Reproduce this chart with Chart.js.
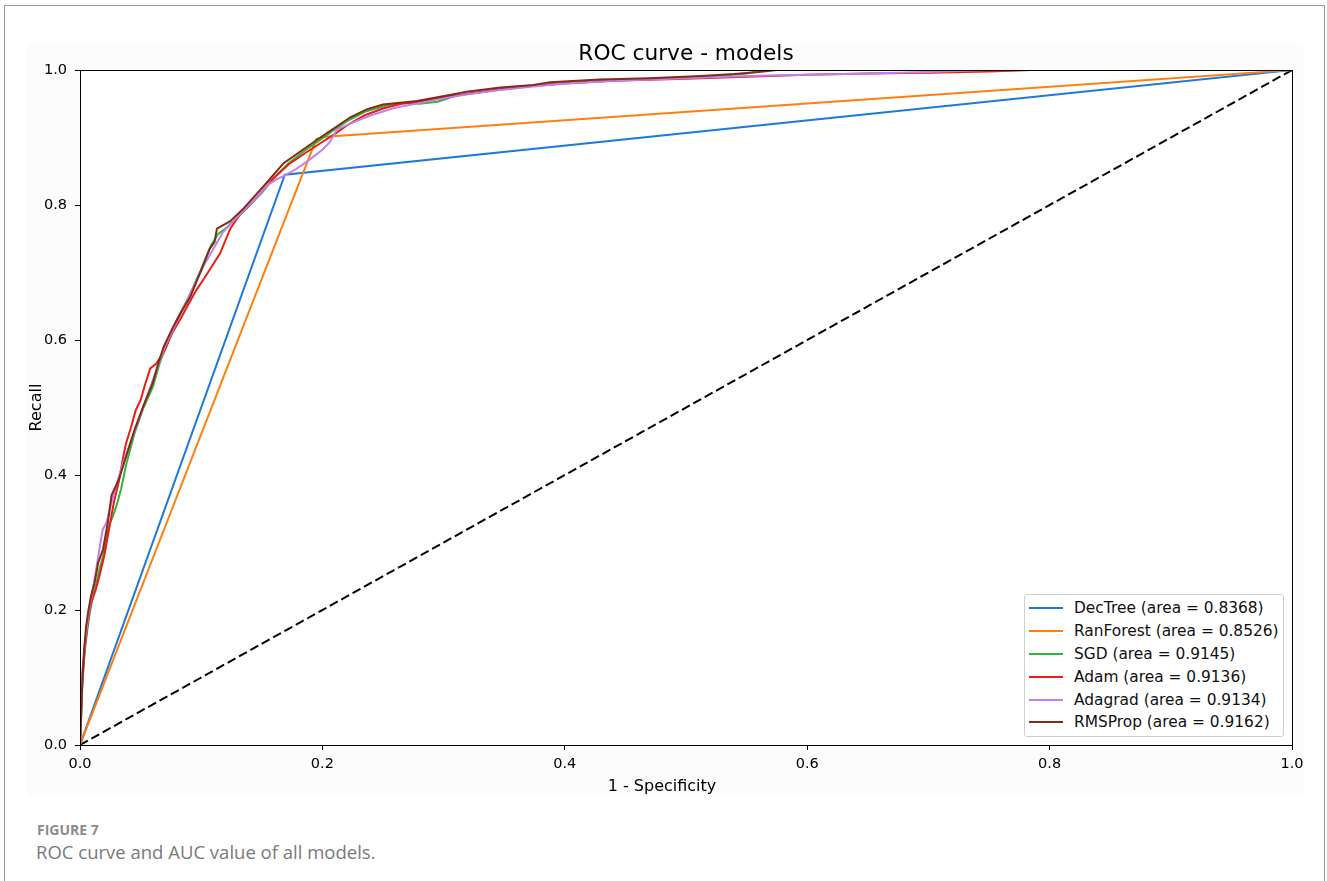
<!DOCTYPE html>
<html>
<head>
<meta charset="utf-8">
<script src="https://cdn.jsdelivr.net/npm/chart.js@4.4.1/dist/chart.umd.min.js"></script>
<style>
  body { margin: 0; background: #fff; }
  #frame { position: absolute; left: 4px; top: 5px; width: 1319px; height: 900px;
           border: 1.5px solid #9a9a9a; border-bottom: none; }
  #figbg { position: absolute; left: 26px; top: 42px; width: 1277px; height: 755px; background: #fcfcfc; }
  #wrap { position: absolute; left: 0; top: 0; width: 1327px; height: 810px; }
  #xlabel { position: absolute; left: 562px; width: 200px; top: 776px; text-align: center;
            font-family: 'DejaVu Sans', sans-serif; font-size: 16px; color: #000; }
  #legend { position: absolute; left: 1024px; top: 594px; width: 260px; height: 143px;
            border: 1px solid #cfcfcf; border-radius: 3px; background: #fff;
            font-family: 'DejaVu Sans', sans-serif; font-size: 15.4px; color: #111; padding-top: 2px; box-sizing: border-box; }
  .row { height: 22.8px; display: flex; align-items: center; white-space: nowrap; }
  .swatch { width: 34px; height: 0; border-top: 2px solid; margin-left: 4px; margin-right: 11px; }
  #cap1 { position: absolute; left: 37px; top: 820px; font-family: 'Open Sans', sans-serif; font-weight: 700;
          font-size: 14px; color: #8c8c8c; }
  #cap2 { position: absolute; left: 36px; top: 839px; font-family: 'Open Sans', sans-serif;
          font-size: 18.5px; color: #7a7a7a; }
</style>
</head>
<body>
<div id="frame"></div>
<div id="figbg"></div>
<div id="wrap"><canvas id="rocChart" width="1327" height="810"></canvas></div>
<div id="xlabel">1 - Specificity</div>
<div id="legend"></div>
<div id="cap1">FIGURE 7</div>
<div id="cap2">ROC curve and AUC value of all models.</div>
<script>
// Model names and AUC values (legend)
const modelNames = ['DecTree', 'RanForest', 'SGD', 'Adam', 'Adagrad', 'RMSProp'];
const modelAreas = ['0.8368', '0.8526', '0.9145', '0.9136', '0.9134', '0.9162'];

// ROC points (false positive rate / recall)
const treeFpr = [0, 0.169, 1];
const treeTpr = [0, 0.845, 1];

const forestFpr = [0, 0.195, 0.203, 1];
const forestTpr = [0, 0.898, 0.901, 1];

const sgdFpr = [0, 0.001, 0.002, 0.004, 0.006, 0.008, 0.010, 0.013, 0.016, 0.019, 0.022, 0.025, 0.028, 0.031, 0.034, 0.038, 0.045, 0.052, 0.06, 0.066, 0.072, 0.08, 0.09, 0.1, 0.108, 0.114, 0.12, 0.13, 0.14, 0.15, 0.16, 0.172, 0.185, 0.197, 0.21, 0.222, 0.235, 0.25, 0.265, 0.28, 0.295, 0.31, 0.33, 0.35, 0.375, 0.4, 0.44, 0.48, 0.52, 0.55, 0.565, 1];
const sgdTpr = [0, 0.04, 0.09, 0.14, 0.17, 0.195, 0.215, 0.235, 0.26, 0.28, 0.31, 0.33, 0.343, 0.36, 0.38, 0.415, 0.462, 0.498, 0.53, 0.567, 0.595, 0.63, 0.665, 0.705, 0.74, 0.757, 0.765, 0.782, 0.8, 0.818, 0.84, 0.862, 0.88, 0.895, 0.912, 0.926, 0.938, 0.946, 0.951, 0.95, 0.953, 0.962, 0.967, 0.972, 0.977, 0.981, 0.985, 0.988, 0.99, 0.995, 1.0, 1.0];

const adamFpr = [0, 0.001, 0.002, 0.004, 0.006, 0.008, 0.010, 0.013, 0.016, 0.02, 0.024, 0.028, 0.032, 0.036, 0.038, 0.042, 0.046, 0.05, 0.054, 0.058, 0.063, 0.07, 0.076, 0.0825, 0.09, 0.096, 0.102, 0.107, 0.1155, 0.124, 0.132, 0.14, 0.15, 0.16, 0.172, 0.185, 0.197, 0.21, 0.222, 0.235, 0.25, 0.265, 0.28, 0.3, 0.32, 0.345, 0.37, 0.4, 0.44, 0.5, 0.55, 0.6, 0.65, 0.7, 0.75, 0.785, 1];
const adamTpr = [0, 0.05, 0.1, 0.145, 0.175, 0.2, 0.215, 0.23, 0.25, 0.28, 0.32, 0.36, 0.39, 0.43, 0.447, 0.47, 0.496, 0.511, 0.536, 0.558, 0.565, 0.585, 0.61, 0.63, 0.655, 0.674, 0.69, 0.704, 0.728, 0.765, 0.786, 0.8, 0.82, 0.84, 0.86, 0.876, 0.89, 0.905, 0.92, 0.933, 0.943, 0.95, 0.953, 0.96, 0.965, 0.971, 0.976, 0.98, 0.984, 0.987, 0.99, 0.993, 0.995, 0.996, 0.998, 1.0, 1.0];

const adagradFpr = [0, 0.001, 0.002, 0.004, 0.006, 0.008, 0.010, 0.0132, 0.016, 0.0187, 0.022, 0.026, 0.03, 0.035, 0.04, 0.046, 0.052, 0.058, 0.064, 0.07, 0.078, 0.086, 0.094, 0.102, 0.11, 0.118, 0.126, 0.135, 0.145, 0.155, 0.162, 0.168, 0.178, 0.19, 0.2, 0.206, 0.212, 0.225, 0.24, 0.26, 0.28, 0.3, 0.32, 0.345, 0.37, 0.4, 0.44, 0.5, 0.55, 0.6, 0.65, 0.7, 0.75, 1];
const adagradTpr = [0, 0.06, 0.11, 0.15, 0.18, 0.205, 0.225, 0.259, 0.29, 0.319, 0.33, 0.36, 0.385, 0.415, 0.44, 0.47, 0.5, 0.53, 0.56, 0.59, 0.62, 0.65, 0.68, 0.71, 0.735, 0.76, 0.775, 0.792, 0.81, 0.83, 0.838, 0.843, 0.853, 0.868, 0.882, 0.893, 0.912, 0.922, 0.933, 0.944, 0.951, 0.958, 0.964, 0.97, 0.975, 0.98, 0.984, 0.988, 0.991, 0.993, 0.995, 0.997, 1.0, 1.0];

const rmsFpr = [0, 0.001, 0.002, 0.0036, 0.005, 0.007, 0.009, 0.012, 0.015, 0.019, 0.023, 0.026, 0.032, 0.038, 0.045, 0.052, 0.06, 0.064, 0.069, 0.077, 0.083, 0.091, 0.099, 0.107, 0.111, 0.113, 0.124, 0.135, 0.1485, 0.154, 0.168, 0.1815, 0.195, 0.209, 0.223, 0.237, 0.25, 0.278, 0.305, 0.319, 0.347, 0.374, 0.388, 0.429, 0.47, 0.512, 0.54, 0.56, 0.575, 1];
const rmsTpr = [0, 0.05, 0.10, 0.146, 0.175, 0.20, 0.22, 0.24, 0.27, 0.29, 0.33, 0.37, 0.393, 0.427, 0.467, 0.501, 0.536, 0.562, 0.59, 0.62, 0.64, 0.664, 0.699, 0.735, 0.745, 0.765, 0.776, 0.795, 0.822, 0.833, 0.862, 0.879, 0.896, 0.913, 0.93, 0.942, 0.949, 0.954, 0.963, 0.968, 0.974, 0.978, 0.982, 0.986, 0.988, 0.991, 0.994, 0.997, 1.0, 1.0];

// chance line
const chanceFpr = [0, 1];
const chanceTpr = [0, 1];

const lineColors = ['#1f78dc', '#ff7f0e', '#2db83a', '#ee1c14', '#bf80ee', '#862a17'];

function toPoints(xs, ys) {
  return xs.map((x, i) => ({ x: x, y: ys[i] }));
}

const curves = [
  [treeFpr, treeTpr], [forestFpr, forestTpr], [sgdFpr, sgdTpr],
  [adamFpr, adamTpr], [adagradFpr, adagradTpr], [rmsFpr, rmsTpr]
];

const datasets = curves.map((c, i) => ({
  label: modelNames[i] + ' (area = ' + modelAreas[i] + ')',
  data: toPoints(c[0], c[1]),
  borderColor: lineColors[i],
  borderWidth: 2,
  pointRadius: 0,
  tension: 0,
  order: 6 - i   // later models drawn on top, like matplotlib
}));
datasets.push({
  label: 'chance',
  data: toPoints(chanceFpr, chanceTpr),
  borderColor: '#000',
  borderWidth: 2,
  borderDash: [9, 4],
  pointRadius: 0,
  order: 7
});

// white axes background, spines over the lines
const axesFrame = {
  id: 'axesFrame',
  beforeDatasetsDraw(chart) {
    const a = chart.chartArea, ctx = chart.ctx;
    ctx.save();
    ctx.fillStyle = '#fff';
    ctx.fillRect(a.left, a.top, a.right - a.left, a.bottom - a.top);
    ctx.restore();
  },
  afterDatasetsDraw(chart) {
    const a = chart.chartArea, ctx = chart.ctx;
    ctx.save();
    ctx.strokeStyle = '#000';
    ctx.lineWidth = 1;
    ctx.strokeRect(Math.round(a.left) + 0.5, Math.round(a.top) + 0.5, Math.round(a.right - a.left), Math.round(a.bottom - a.top));
    ctx.restore();
  }
};

Chart.defaults.font.family = "'DejaVu Sans', sans-serif";
Chart.defaults.color = '#000';

const rocCtx = document.getElementById('rocChart').getContext('2d');
const rocChart = new Chart(rocCtx, {
  type: 'line',
  data: { datasets: datasets },
  options: {
    responsive: false,
    animation: false,
    layout: { padding: { left: 0, right: 35, top: 0, bottom: 0 } },
    plugins: {
      legend: { display: false },
      tooltip: { enabled: false },
      title: {
        display: true,
        fullSize: false,
        text: 'ROC curve - models',
        font: { size: 21.7, weight: 'normal' },
        color: '#000',
        padding: { top: 41, bottom: 3 }
      }
    },
    scales: {
      x: {
        type: 'linear', min: 0, max: 1,
        afterFit: s => { s.height = 65; },
        ticks: { stepSize: 0.2, callback: v => v.toFixed(1), font: { size: 14.5 }, padding: 6, color: '#000' },
        grid: { drawOnChartArea: false, tickLength: 5, color: '#000' },
        border: { color: '#000', width: 1 }
      },
      y: {
        type: 'linear', min: 0, max: 1,
        afterFit: s => { s.width = 80; },
        ticks: { stepSize: 0.2, callback: v => v.toFixed(1), font: { size: 14.5 }, padding: 8, color: '#000' },
        grid: { drawOnChartArea: false, tickLength: 5, color: '#000' },
        border: { color: '#000', width: 1 },
        title: { display: true, text: 'Recall', font: { size: 16 }, padding: { top: 27, bottom: 0 } }
      }
    }
  },
  plugins: [axesFrame]
});

// legend box inside the plot, bottom right
const legendEl = document.getElementById('legend');
modelNames.forEach((name, i) => {
  const row = document.createElement('div');
  row.className = 'row';
  const sw = document.createElement('span');
  sw.className = 'swatch';
  sw.style.borderTopColor = lineColors[i];
  const txt = document.createElement('span');
  txt.textContent = name + ' (area = ' + modelAreas[i] + ')';
  row.appendChild(sw);
  row.appendChild(txt);
  legendEl.appendChild(row);
});
</script>
</body>
</html>
